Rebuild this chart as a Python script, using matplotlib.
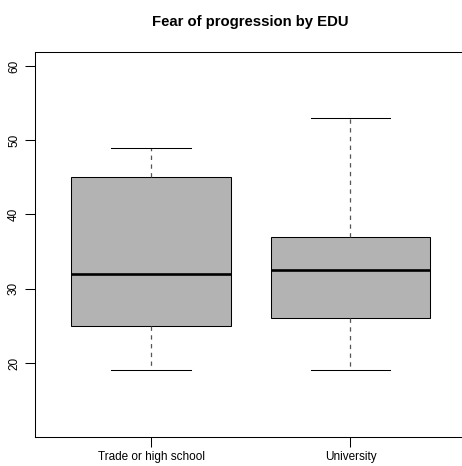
import matplotlib.pyplot as plt

# Five-number summaries
groups = ['Trade or high school', 'University']
lower_whisker = [19, 19]
q1 = [25, 26]
median = [32, 32.5]
q3 = [45, 37]
upper_whisker = [49, 53]

plt.rcParams['font.family'] = ['Liberation Sans', 'DejaVu Sans']

fig = plt.figure(figsize=(4.62, 4.66), dpi=100)
W, H = 462, 466
# axes in pixel coords (right edge is cut off in the reference)
left, right, top, bottom = 35.3, 466.2, 51.7, 436.7
ax = fig.add_axes([left / W, 1 - bottom / H, (right - left) / W, (bottom - top) / H])

stats = []
for i, name in enumerate(groups):
    stats.append({'label': name, 'whislo': lower_whisker[i], 'q1': q1[i], 'med': median[i],
                  'q3': q3[i], 'whishi': upper_whisker[i], 'fliers': []})

ax.bxp(stats, positions=[1, 2], widths=0.8, patch_artist=True, showfliers=False,
       boxprops=dict(facecolor='#b3b3b3', edgecolor='black', linewidth=0.75),
       medianprops=dict(color='black', linewidth=1.9, solid_capstyle='butt'),
       whiskerprops=dict(color='#555555', linewidth=0.9, linestyle=(0, (3.5, 3.5))),
       capprops=dict(color='black', linewidth=0.75), capwidths=0.4)

ax.set_xlim(0.42, 2.58)
ax.set_ylim(10.08, 61.92)
ax.set_yticks([20, 30, 40, 50, 60])
ax.set_xticks([1, 2])
ax.set_xticklabels(groups)
ax.tick_params(axis='both', length=7, width=0.75, labelsize=8.5, pad=3.5)
ax.tick_params(axis='y', labelrotation=90, pad=4)
for lbl in ax.get_yticklabels():
    lbl.set_va('center')
for sp in ax.spines.values():
    sp.set_linewidth(0.75)
ax.spines['right'].set_visible(False)

fig.text(250.7 / W, 1 - 22 / H, 'Fear of progression by EDU', ha='center', va='center',
         fontsize=10.7, fontweight='bold')

fig.savefig('out.png', dpi=100)
